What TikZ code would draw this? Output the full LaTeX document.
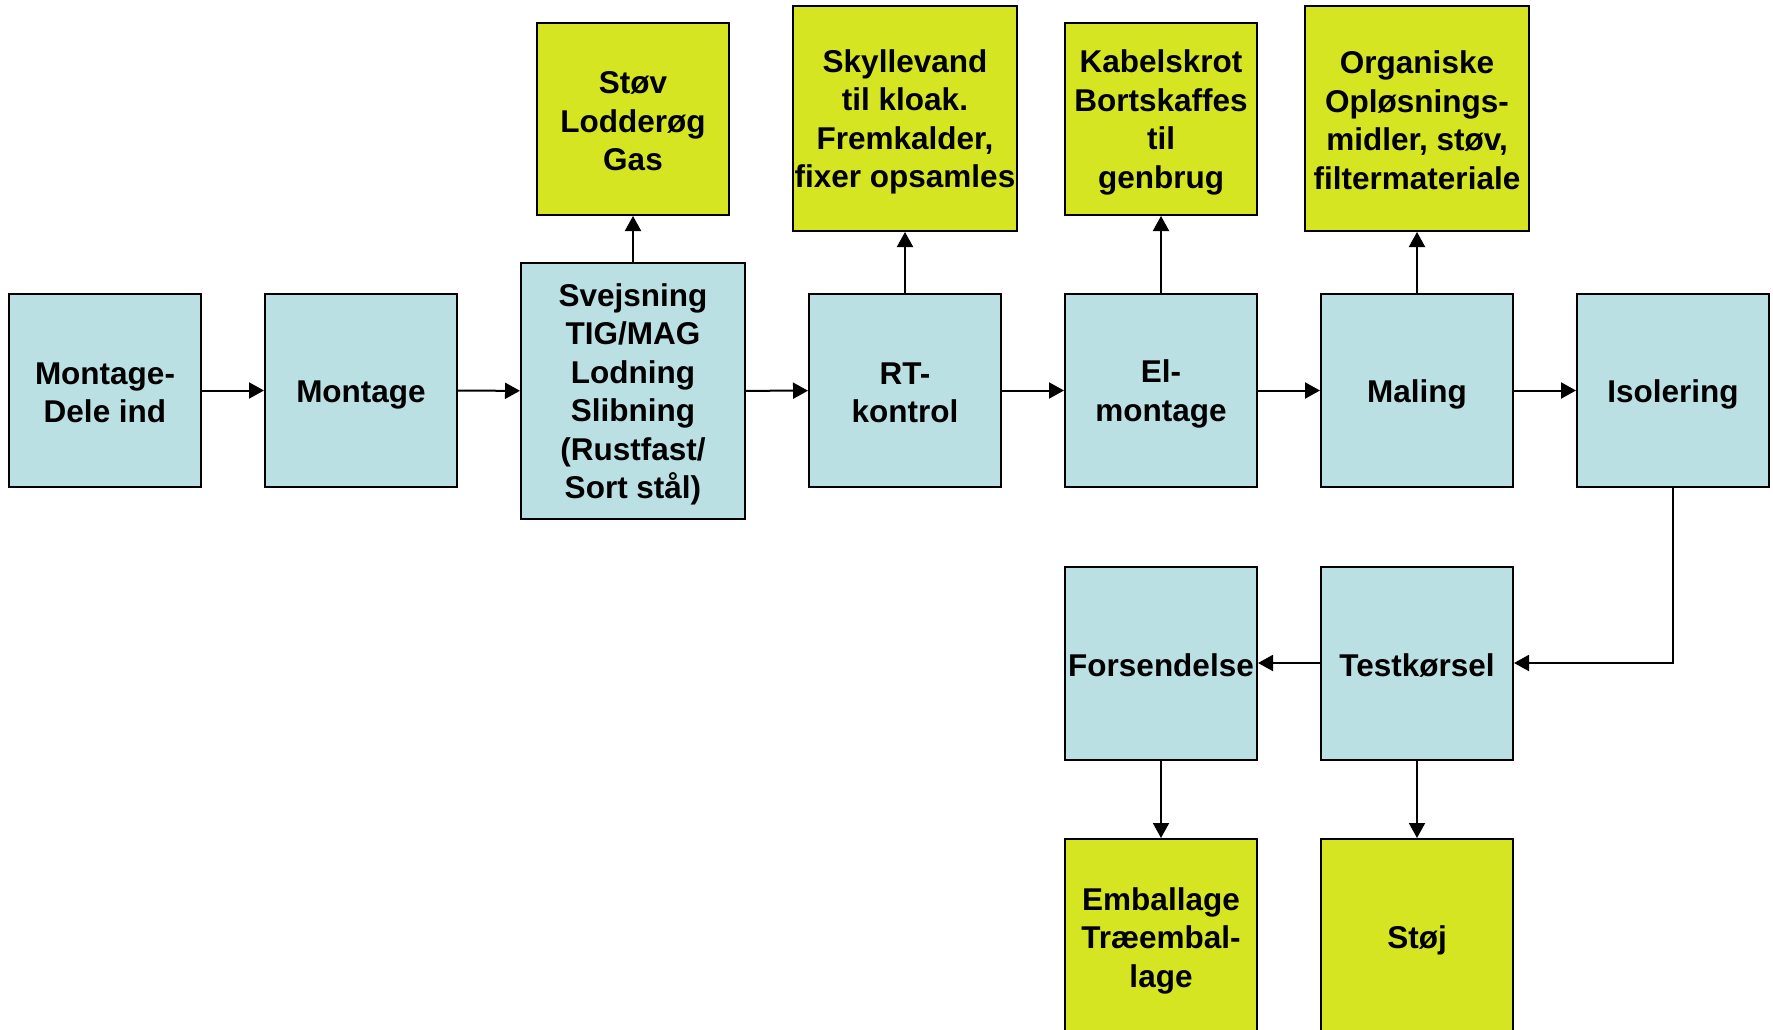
\documentclass[tikz,border=0pt]{standalone}
\usepackage{fontspec}
\setmainfont{Liberation Sans}
\usetikzlibrary{arrows.meta}
\definecolor{procblue}{HTML}{BBE0E3}
\definecolor{wasteyel}{HTML}{D5E522}
\newcommand\lstrut{\rule[-3.8pt]{0pt}{33.8pt}}
\begin{document}
\begin{tikzpicture}[x=1pt,y=-1pt,
  box/.style={draw=black, line width=2pt, rectangle, inner sep=0pt, align=center,
    font=\fontsize{31.5}{38.5}\selectfont\bfseries},
  proc/.style={box, fill=procblue, minimum width=192pt, minimum height=193pt},
  waste/.style={box, fill=wasteyel, minimum width=192pt, minimum height=192pt},
  wastewide/.style={box, fill=wasteyel, minimum width=224pt, minimum height=225pt},
  arr/.style={-{Triangle[length=15pt,width=16pt]}, line width=2pt}]
\useasboundingbox[fill=white] (0,0) rectangle (1773,1030);
\node[proc] (a) at (105,390.5) {\lstrut Montage-\\\lstrut Dele ind};
\node[proc] (b) at (361,390.5) {\lstrut Montage};
\node[proc, minimum width=224pt, minimum height=256pt] (c) at (633,391) {\lstrut Svejsning\\\lstrut TIG/MAG\\\lstrut Lodning\\\lstrut Slibning\\\lstrut (Rustfast/\\\lstrut Sort stål)};
\node[proc] (d) at (905,390.5) {\lstrut RT-\\\lstrut kontrol};
\node[proc] (e) at (1161,390.5) {\lstrut El-\\\lstrut montage};
\node[proc] (f) at (1417,390.5) {\lstrut Maling};
\node[proc] (g) at (1673,390.5) {\lstrut Isolering};
\node[proc] (h) at (1417,663) {\lstrut Testkørsel};
\node[proc] (i) at (1161,663) {\lstrut Forsendelse};
\node[waste] (w1) at (633,119) {\lstrut Støv\\\lstrut Lodderøg\\\lstrut Gas};
\node[wastewide] (w2) at (905,118.5) {\lstrut Skyllevand\\\lstrut til kloak.\\\lstrut Fremkalder,\\\lstrut fixer opsamles};
\node[waste] (w3) at (1161,119) {\lstrut Kabelskrot\\\lstrut Bortskaffes\\\lstrut til\\\lstrut genbrug};
\node[wastewide] (w4) at (1417,118.5) {\lstrut Organiske\\\lstrut Opløsnings-\\\lstrut midler, støv,\\\lstrut filtermateriale};
\node[waste, minimum height=196pt] (w5) at (1161,937) {\lstrut Emballage\\\lstrut Træembal-\\\lstrut lage};
\node[waste, minimum height=196pt] (w6) at (1417,937) {\lstrut Støj};
\draw[arr] (a) -- (b);
\draw[arr] (b) -- (c);
\draw[arr] (c) -- (d);
\draw[arr] (d) -- (e);
\draw[arr] (e) -- (f);
\draw[arr] (f) -- (g);
\draw[arr] (c) -- (w1);
\draw[arr] (d) -- (w2);
\draw[arr] (e) -- (w3);
\draw[arr] (f) -- (w4);
\draw[arr] (g.south) |- (h.east);
\draw[arr] (h) -- (i);
\draw[arr] (i) -- (w5);
\draw[arr] (h) -- (w6);
\end{tikzpicture}
\end{document}
